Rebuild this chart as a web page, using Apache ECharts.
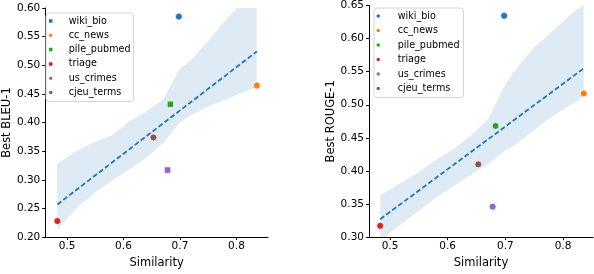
<!DOCTYPE html>
<html>
<head>
<meta charset="utf-8">
<script src="https://cdn.jsdelivr.net/npm/echarts@6/dist/echarts.min.js"></script>
<style>html,body{margin:0;padding:0;background:#fff}#c{width:594px;height:274px}</style>
</head>
<body>
<div id="c"></div>
<script>
// ---- data ----
const datasets = ['wiki_bio', 'cc_news', 'pile_pubmed', 'triage', 'us_crimes', 'cjeu_terms'];
const similarity = [0.698, 0.836, 0.683, 0.483, 0.678, 0.653];
const bleu1 = [0.585, 0.4645, 0.432, 0.228, 0.317, 0.374];
const rouge1 = [0.6345, 0.517, 0.468, 0.317, 0.346, 0.410];

const fitX = [0.483, 0.836];
const bleuFit = [0.257, 0.524];
const rougeFit = [0.327, 0.555];

const bandX = [0.483, 0.50, 0.52, 0.55, 0.58, 0.61, 0.64, 0.67, 0.70, 0.72, 0.75, 0.78, 0.81, 0.836];
const bleuLower = [0.212, 0.232, 0.254, 0.278, 0.299, 0.318, 0.338, 0.364, 0.400, 0.413, 0.428, 0.440, 0.452, 0.462];
const bleuUpper = [0.328, 0.340, 0.352, 0.366, 0.378, 0.402, 0.419, 0.440, 0.495, 0.509, 0.543, 0.578, 0.610, 0.645];
const rougeLower = [0.294, 0.307, 0.320, 0.340, 0.360, 0.377, 0.394, 0.410, 0.431, 0.441, 0.462, 0.482, 0.498, 0.512];
const rougeUpper = [0.364, 0.372, 0.383, 0.398, 0.417, 0.433, 0.453, 0.478, 0.531, 0.556, 0.587, 0.610, 0.634, 0.651];

const xTicks = [0.5, 0.6, 0.7, 0.8];
const colors = ['#1f77b4', '#ff7f0e', '#2ca02c', '#d62728', '#9467bd', '#8c564b'];
const SQUARE = 'path://M0,0L10,0L10,10L0,10Z';
const leftShapes = ['circle', 'circle', 'rect', 'circle', 'rect', 'circle'];
const leftLegendIcons = [SQUARE, 'circle', SQUARE, SQUARE, 'circle', 'circle'];

// ---- chart ----
const FONT = 'DejaVu Sans';
const chart = echarts.init(document.getElementById('c'), null, {renderer: 'canvas'});

function xAxis(idx, min, max) {
  return {
    type: 'value', gridIndex: idx, min: min, max: max,
    name: 'Similarity', nameLocation: 'middle', nameGap: 15,
    nameTextStyle: {fontFamily: FONT, fontSize: 11.5, color: '#000'},
    splitLine: {show: false},
    axisLine: {show: true, onZero: false, lineStyle: {color: '#000', width: 1}},
    axisTick: {show: true, length: 3, customValues: xTicks, lineStyle: {color: '#000', width: 1}},
    axisLabel: {customValues: xTicks, margin: 4, fontFamily: FONT, fontSize: 10.5, color: '#000',
      formatter: v => v.toFixed(1)}
  };
}
function yAxis(idx, min, max, name, gap) {
  return {
    type: 'value', gridIndex: idx, min: min, max: max, interval: 0.05,
    name: name, nameLocation: 'middle', nameGap: gap,
    nameTextStyle: {fontFamily: FONT, fontSize: 11.5, color: '#000'},
    splitLine: {show: false},
    axisLine: {show: true, onZero: false, lineStyle: {color: '#000', width: 1}},
    axisTick: {show: true, length: 3, lineStyle: {color: '#000', width: 1}},
    axisLabel: {margin: 5, fontFamily: FONT, fontSize: 10.5, color: '#000',
      formatter: v => Number(v).toFixed(2)}
  };
}

const series = [];
function addPanel(idx, yVals, fitVals, lower, upper, shapes) {
  series.push({
    type: 'custom', xAxisIndex: idx, yAxisIndex: idx, silent: true, z: 1,
    data: bandX.map((x, i) => [x, lower[i], upper[i]]),
    encode: {x: 0, y: [1, 2]},
    renderItem: function (params, api) {
      if (params.dataIndex !== 0) return null;
      const pts = [];
      for (let i = 0; i < bandX.length; i++) pts.push(api.coord([bandX[i], upper[i]]));
      for (let i = bandX.length - 1; i >= 0; i--) pts.push(api.coord([bandX[i], lower[i]]));
      const cs = params.coordSys;
      return {
        type: 'polygon', shape: {points: pts},
        style: {fill: 'rgba(31,119,180,0.15)'},
        clipPath: {type: 'rect', shape: {x: cs.x, y: cs.y, width: cs.width, height: cs.height}}
      };
    }
  });
  series.push({
    type: 'line', xAxisIndex: idx, yAxisIndex: idx,
    data: fitX.map((x, i) => [x, fitVals[i]]),
    symbol: 'none', lineStyle: {color: '#1f77b4', width: 1.8, type: [5, 2.5]}, z: 2
  });
  datasets.forEach((name, i) => {
    series.push({
      type: 'scatter', name: name, xAxisIndex: idx, yAxisIndex: idx,
      data: [[similarity[i], yVals[i]]],
      symbol: shapes[i], symbolSize: shapes[i] === 'rect' ? 6.5 : 7,
      itemStyle: {color: colors[i], borderColor: '#fff', borderWidth: 0.8, opacity: 1}, z: 3
    });
  });
}
addPanel(0, bleu1, bleuFit, bleuLower, bleuUpper, leftShapes);
addPanel(1, rouge1, rougeFit, rougeLower, rougeUpper, datasets.map(() => 'circle'));

function legend(left, top, icons, gap, iw, pad, textPadL) {
  return {
    orient: 'vertical', left: left, top: top,
    data: datasets.map((n, i) => ({name: n, icon: icons[i], itemStyle: {color: colors[i]}})),
    itemWidth: iw, itemHeight: 5.5, itemGap: gap, symbolKeepAspect: true,
    padding: pad,
    backgroundColor: 'rgba(255,255,255,0.8)', borderColor: '#d4d4d4', borderWidth: 1, borderRadius: 3,
    textStyle: {fontFamily: FONT, fontSize: 9.6, color: '#000', lineHeight: 12, padding: [0, 0, 0, textPadL]},
    selectedMode: false
  };
}

chart.setOption({
  animation: false,
  backgroundColor: '#fff',
  grid: [
    {left: 42, top: 8, width: 226, height: 237},
    {left: 369, top: 3, width: 224, height: 241}
  ],
  xAxis: [xAxis(0, 0.4616, 0.8558), xAxis(1, 0.4636, 0.852)],
  yAxis: [yAxis(0, 0.2, 0.6, 'Best BLEU-1', 31), yAxis(1, 0.3, 0.65, 'Best ROUGE-1', 32)],
  legend: [
    legend(46, 13, leftLegendIcons, 2.3, 26, [2, 3, 3, 1], 0),
    legend(374, 8, datasets.map(() => 'circle'), 2.5, 23, [2, 4, 3, 0.5], 3)
  ],
  series: series
});
</script>
</body>
</html>
